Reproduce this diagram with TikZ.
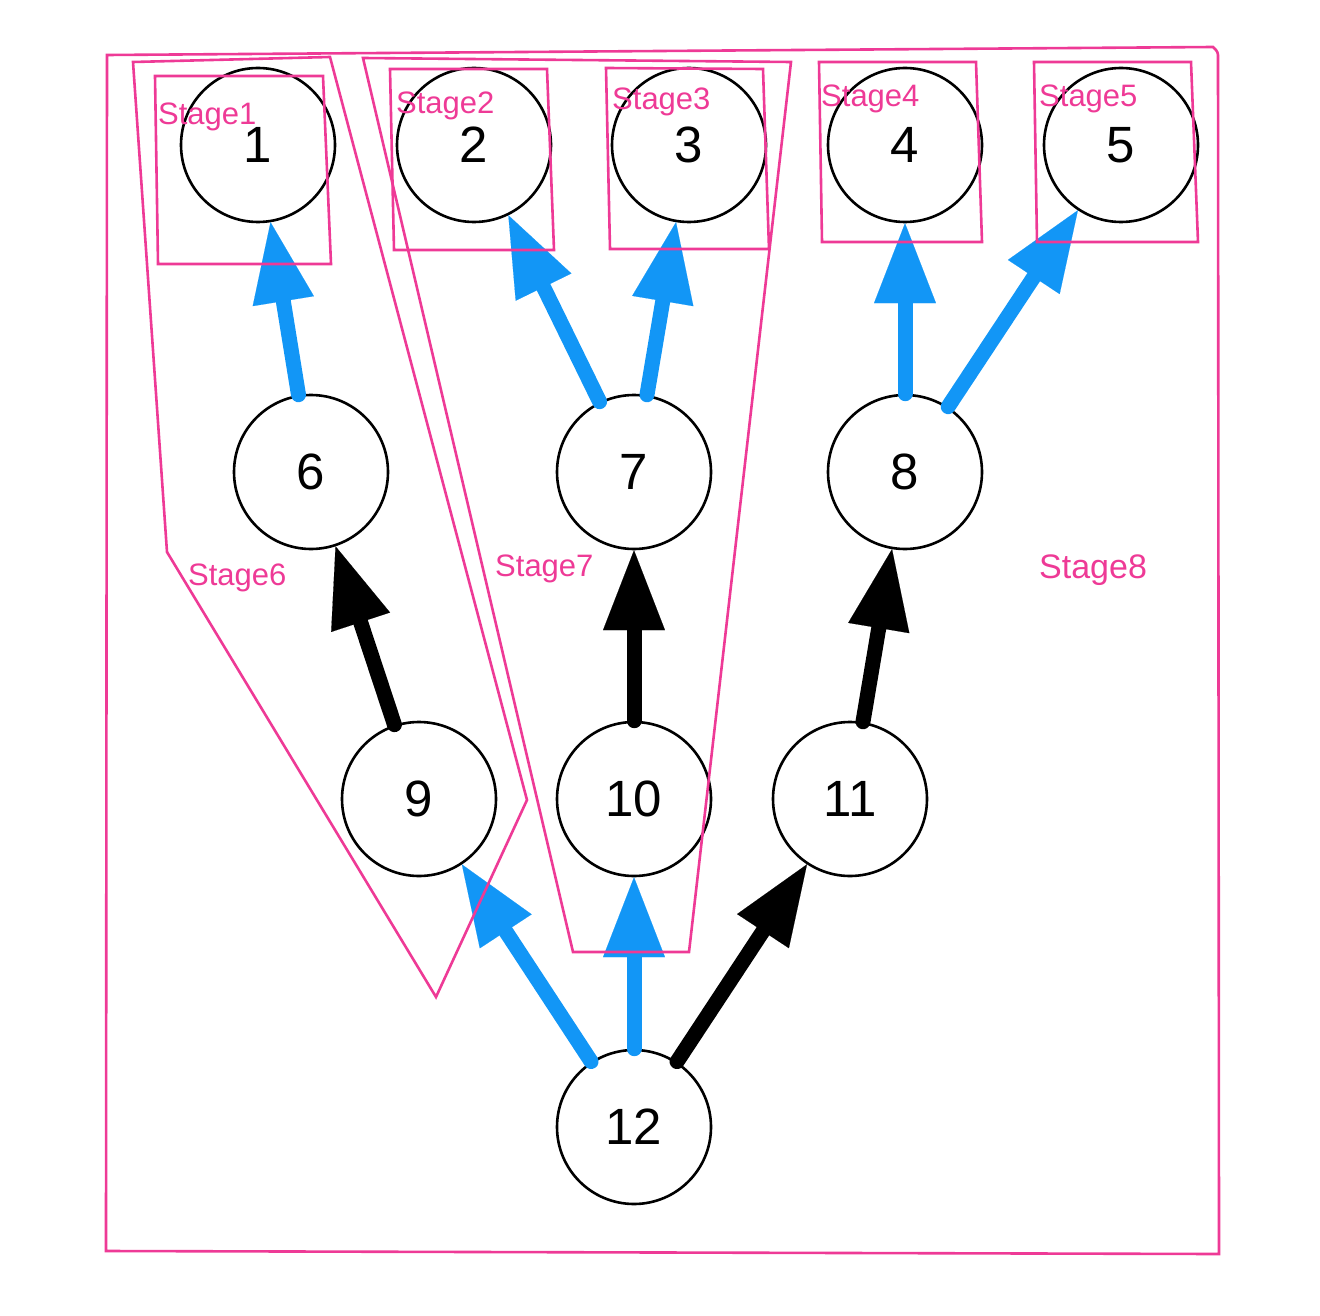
\documentclass[tikz,border=0pt]{standalone}
\usepackage{fontspec}
\setmainfont{Liberation Sans}
\usetikzlibrary{arrows.meta}
\definecolor{stagepink}{RGB}{238,58,150}
\definecolor{arrowblue}{RGB}{18,150,246}
\tikzset{
  vtx/.style={circle, draw=black, line width=2.6pt, minimum size=154pt, inner sep=0pt,
    font=\fontsize{51}{51}\selectfont},
  arrb/.style={line width=15pt, line cap=round,
    -{Triangle[length=80pt 0 0, width=62pt 0 0, line width=0.1pt, round=false]}},
  arrblue/.style={arrb, draw=arrowblue, color=arrowblue},
  arrblack/.style={arrb, draw=black, color=black},
  stagebox/.style={draw=stagepink, line width=2.6pt, line join=miter},
  stagelbl/.style={text=stagepink, font=\fontsize{31}{31}\selectfont, inner sep=0pt},
  stagelblbig/.style={text=stagepink, font=\fontsize{31}{31}\selectfont, inner sep=0pt}
}
\begin{document}
\begin{tikzpicture}[x=1pt, y=-1pt]
\useasboundingbox (0,0) rectangle (1320,1316);
% nodes
\node[vtx] (n1) at (258,145) {1};
\node[vtx] (n2) at (474,145) {2};
\node[vtx] (n3) at (689,145) {3};
\node[vtx] (n4) at (905,145) {4};
\node[vtx] (n5) at (1121,145) {5};
\node[vtx] (n6) at (311,472) {6};
\node[vtx] (n7) at (634,472) {7};
\node[vtx] (n8) at (905,472) {8};
\node[vtx] (n9) at (419,799) {9};
\node[vtx] (n10) at (634,799) {10};
\node[vtx] (n11) at (850,799) {11};
\node[vtx] (n12) at (634,1127) {12};
% arrows
\draw[arrblue] (n6) -- (n1);
\draw[arrblue] (n7) -- (n2);
\draw[arrblue] (n7) -- (n3);
\draw[arrblue] (n8) -- (n4);
\draw[arrblue] (n8) -- (n5);
\draw[arrblack] (n9) -- (n6);
\draw[arrblack] (n10) -- (n7);
\draw[arrblack] (n11) -- (n8);
\draw[arrblue] (n12) -- (n9);
\draw[arrblue] (n12) -- (n10);
\draw[arrblack] (n12) -- (n11);
% stage outlines
\draw[stagebox] (107,55) -- (1213,47) [rounded corners=3pt] -- (1218,52) [sharp corners] -- (1219,1254) -- (106,1251) -- cycle;
\draw[stagebox] (133,62) -- (330,57) -- (527,800) -- (436,997) -- (167,552) -- cycle;
\draw[stagebox] (363,58) -- (791,62) -- (689,952) -- (573,952) -- cycle;
\draw[stagebox] (155,76) -- (323,76) -- (331,264) -- (158,264) -- cycle;
\draw[stagebox] (390,69) -- (547,69) -- (554,250) -- (394,250) -- cycle;
\draw[stagebox] (606,68) -- (763,69) -- (769,249) -- (610,249) -- cycle;
\draw[stagebox] (819,62) -- (976,62) -- (982,242) -- (822,242) -- cycle;
\draw[stagebox] (1034,62) -- (1191,62) -- (1198,242) -- (1037,242) -- cycle;
% stage labels
\node[stagelbl, anchor=base west] (s1) at (158,125) {Stage1};
\node[stagelbl, anchor=base west] (s2) at (396,114) {Stage2};
\node[stagelbl, anchor=base west] (s3) at (612,110) {Stage3};
\node[stagelbl, anchor=base west] (s4) at (821,107) {Stage4};
\node[stagelbl, anchor=base west] (s5) at (1039,107) {Stage5};
\node[stagelblbig, anchor=base west] (s6) at (188,585) {Stage6};
\node[stagelblbig, anchor=base west] (s7) at (495,576) {Stage7};
\node[stagelblbig, anchor=base west, font=\fontsize{34}{34}\selectfont] (s8) at (1039,578) {Stage8};
\end{tikzpicture}
\end{document}
